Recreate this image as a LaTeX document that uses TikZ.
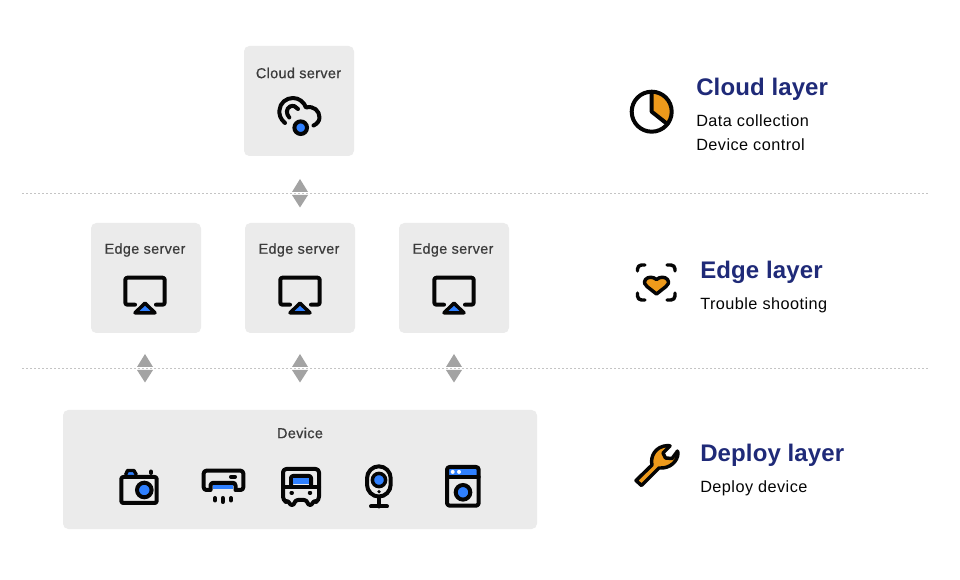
\documentclass[tikz,border=0pt]{standalone}
\usepackage{fontspec}
\setmainfont{Liberation Sans}
\newfontfamily\labelfont[FakeBold=0.6,LetterSpace=2.5]{Liberation Sans}
\newfontfamily\titlefont[LetterSpace=0.5]{Liberation Sans Bold}
\newfontfamily\bodyfont[LetterSpace=2.8]{Liberation Sans}
\definecolor{boxgray}{HTML}{EBEBEB}
\definecolor{arrowgray}{HTML}{A3A3A3}
\definecolor{dotgray}{HTML}{C4C4C4}
\definecolor{navy}{HTML}{1F2A78}
\definecolor{iconblue}{HTML}{2F80FF}
\definecolor{iconorange}{HTML}{EE9A1B}
\definecolor{labelgray}{HTML}{3C3C3C}
\definecolor{inkblack}{HTML}{050505}
\tikzset{
  panel/.style={fill=boxgray,rounded corners=4pt,draw=none},
  boxlabel/.style={font=\fontsize{10.8pt}{13pt}\labelfont,text=labelgray,inner sep=0pt,anchor=center},
  layertitle/.style={font=\fontsize{18pt}{21pt}\titlefont,text=navy,inner sep=0pt,anchor=base west},
  layertext/.style={font=\fontsize{12.2pt}{14pt}\bodyfont,text=inkblack,inner sep=0pt,anchor=base west},
  divider/.style={draw=dotgray,line width=0.75pt,dash pattern=on 1.5pt off 1.5pt},
  tri/.style={fill=arrowgray,draw=none},
  ink/.style={draw=inkblack,line width=3pt,line cap=round,line join=round},
}
\newcommand{\updown}[3]{%
  \fill[tri] (#1,#2) -- (#1+8,#2+13) -- (#1-8,#2+13) -- cycle;
  \fill[tri] (#1-8,#3) -- (#1+8,#3) -- (#1,#3+12.5) -- cycle;
}
\newcommand{\edgeicon}[1]{%
  \begin{scope}[shift={(#1,0)}]
    \draw[ink,rounded corners=1.6pt] (135,304.7) -- (125.3,304.7) -- (125.3,277.7) -- (164.7,277.7) -- (164.7,304.7) -- (156,304.7);
    \draw[inkblack,fill=iconblue,line width=2.6pt,line join=round] (145,303.2) -- (155,312.8) -- (135,312.8) -- cycle;
  \end{scope}
}
\begin{document}
\begin{tikzpicture}[x=0.75pt,y=-0.75pt]
\useasboundingbox[fill=white] (0,0) rectangle (960,580);
% dividers
\draw[divider] (22,193.5) -- (930,193.5);
\draw[divider] (22,368.5) -- (930,368.5);
% panels
\fill[panel] (244,46) rectangle (354,156);
\fill[panel] (91,223) rectangle (201,333);
\fill[panel] (245,223) rectangle (355,333);
\fill[panel] (399,223) rectangle (509,333);
\fill[panel] (63,410) rectangle (537,529);
% labels
\node[boxlabel] (cloudlabel) at (298.5,73) {Cloud server};
\node[boxlabel] (edgelabela) at (145,250) {Edge server};
\node[boxlabel] (edgelabelb) at (299,250) {Edge server};
\node[boxlabel] (edgelabelc) at (453,250) {Edge server};
\node[boxlabel] (devicelabel) at (300,433) {Device};
% arrows
\updown{300}{179}{195}
\updown{145}{354}{370}
\updown{300}{354}{370}
\updown{454}{354}{370}
% cloud icon
\draw[ink] (285,123) .. controls (280,119) and (279,114) .. (279.5,110) .. controls (280,103) and (286,98) .. (293,98) .. controls (299,98) and (304,102) .. (306,107.5) .. controls (314,105.5) and (319.5,111) .. (319.5,117.5) .. controls (319.5,121) and (317,124) .. (313.5,125.5);
\draw[ink] (289.3,117.5) .. controls (286,114) and (286,108.5) .. (290,106.5) .. controls (293,105) and (296.5,106.5) .. (298,109);
\draw[inkblack,fill=iconblue,line width=3pt] (300.7,127.7) circle[radius=6.3];
% edge icons
\edgeicon{0}
\edgeicon{155}
\edgeicon{309}
% camera
\draw[inkblack,fill=iconblue,line width=2.5pt,line join=round] (125.5,475) -- (127.5,470.5) -- (134,470.5) -- (136.5,475);
\draw[ink,rounded corners=1.5pt] (121.3,477) rectangle (156.7,503);
\draw[inkblack,fill=iconblue,line width=3pt] (144.3,490) circle[radius=7.3];
\draw[ink] (151,471.5) -- (151,473);
% air conditioner
\draw[ink,rounded corners=2pt] (209.5,490) -- (203.7,490) -- (203.7,470.7) -- (243.3,470.7) -- (243.3,490) -- (237,490);
\draw[ink] (231,476.8) -- (235,476.8);
\draw[ink,rounded corners=2pt] (210.5,490) -- (210.5,482.8) -- (235.5,482.8) -- (235.5,490);
\fill[iconblue] (212.7,485) rectangle (233.3,489);
\draw[ink] (215,498) -- (215,500.5);
\draw[ink] (222.7,498) -- (222.7,502);
\draw[ink] (231,498) -- (231,500.5);
% bus
\draw[ink,rounded corners=2.5pt] (286,502) -- (283,500) -- (283,469) -- (319,469) -- (319,500) -- (316,502);
\draw[ink] (286,501) .. controls (290,501) and (289,505) .. (292,505) .. controls (295,505) and (294,500) .. (298,500) -- (304,500) .. controls (308,500) and (307,505) .. (310,505) .. controls (313,505) and (312,501) .. (316,501);
\draw[ink] (283,487) -- (319,487);
\draw[ink,rounded corners=1.5pt] (291,486) -- (291,476) -- (311,476) -- (311,486);
\fill[iconblue] (292.7,478.3) rectangle (309.3,484.3);
\draw[ink,line width=2.6pt] (291.2,492.8) -- (292.2,492.8);
\draw[ink,line width=2.6pt] (309.5,492.8) -- (310.5,492.8);
% webcam
\draw[ink,rounded corners=9pt] (367,466.3) rectangle (390.7,496.6);
\draw[inkblack,fill=iconblue,line width=2.6pt] (379,480) circle[radius=6.6];
\fill[inkblack] (379,491.7) circle[radius=1.8];
\draw[ink] (379,498) -- (379,506.5);
\draw[ink] (371,506.5) -- (387,506.5);
% washer
\fill[iconblue] (449,469) rectangle (476.7,475.5);
\fill[white] (452.7,471.9) circle[radius=2];
\fill[white] (459,471.9) circle[radius=2];
\draw[ink,rounded corners=2pt] (447,467) rectangle (478.7,505.7);
\draw[ink] (447,477) -- (478.7,477);
\draw[inkblack,fill=iconblue,line width=3pt] (463,492.3) circle[radius=7.3];
% pie icon
\fill[iconorange] (651.7,111.7) -- (651.7,92) arc[start angle=-90,end angle=38,radius=19.7] -- cycle;
\draw[ink] (651.7,111.7) circle[radius=20];
\draw[ink] (651.7,92) -- (651.7,111.7) -- (667.3,124);
% heart icon
\draw[ink,line width=2.6pt,rounded corners=3pt] (637.5,271) -- (637.5,265) -- (645,265);
\draw[ink,line width=2.6pt,rounded corners=3pt] (667,265) -- (675,265) -- (675,271);
\draw[ink,line width=2.6pt,rounded corners=3pt] (637.5,293) -- (637.5,300) -- (645,300);
\draw[ink,line width=2.6pt,rounded corners=3pt] (667,300) -- (675,300) -- (675,293);
\draw[inkblack,fill=iconorange,line width=2.6pt,line join=round] (656.5,279.5) .. controls (653,276.5) and (648,276.5) .. (645.5,279.5) .. controls (643.5,282.5) and (645,285) .. (647,286.5) -- (656.5,294) -- (666,286.5) .. controls (668,285) and (669.5,282.5) .. (667.5,279.5) .. controls (665,276.5) and (660,276.5) .. (656.5,279.5) -- cycle;
% wrench icon
\draw[inkblack,fill=iconorange,line width=2.6pt,line join=round] (652,465) .. controls (650,457) and (655,446) .. (668,445.5) .. controls (670,445.5) and (671,446) .. (669,447) -- (663,453) -- (665.5,458) -- (672,458.5) -- (676.5,452.5) .. controls (677,450) and (678,451) .. (678,453) .. controls (678,461) and (670,469) .. (659,468) -- (641.5,485.5) -- (636,480.5) -- cycle;
% right column text
\node[layertitle] (cloudtitle) at (696,96) {Cloud layer};
\node[layertext] (cloudone) at (696,127) {Data collection};
\node[layertext] (cloudtwo) at (696,151) {Device control};
\node[layertitle] (edgetitle) at (700,279) {Edge layer};
\node[layertext] (edgeone) at (700,310) {Trouble shooting};
\node[layertitle] (deploytitle) at (700,462) {Deploy layer};
\node[layertext] (deployone) at (700,493) {Deploy device};
\end{tikzpicture}
\end{document}
